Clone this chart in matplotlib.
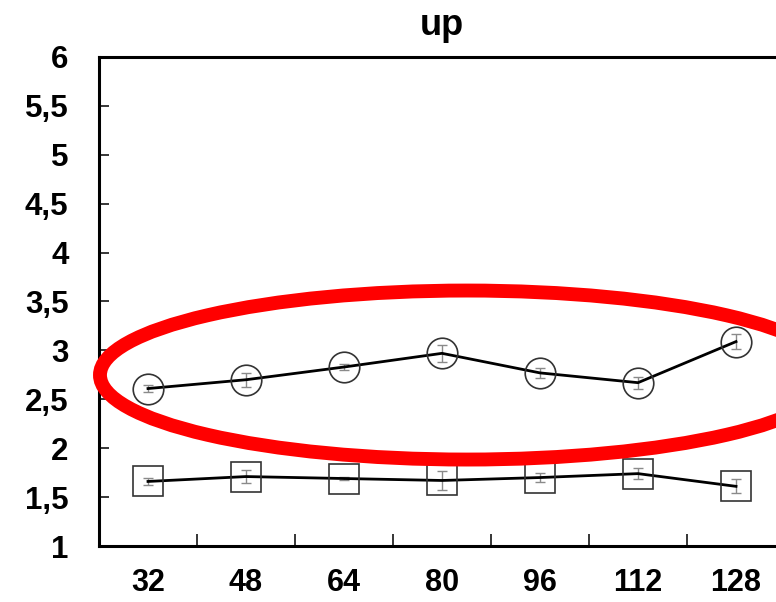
import matplotlib
matplotlib.use("Agg")
import matplotlib.pyplot as plt
from matplotlib.patches import Ellipse
from matplotlib.ticker import FixedLocator, FuncFormatter

# Window sizes on the x axis and mean values per series
categories = ["32", "48", "64", "80", "96", "112", "128"]
circle_vals = [2.61, 2.70, 2.83, 2.97, 2.77, 2.67, 3.09]
circle_err = [0.04, 0.07, 0.03, 0.09, 0.05, 0.06, 0.08]
square_vals = [1.66, 1.71, 1.69, 1.67, 1.70, 1.74, 1.61]
square_err = [0.04, 0.07, 0.02, 0.10, 0.05, 0.06, 0.07]
y_ticks = [1, 1.5, 2, 2.5, 3, 3.5, 4, 4.5, 5, 5.5, 6]
title = "up"

plt.rcParams["font.family"] = ["Liberation Sans", "DejaVu Sans"]
plt.rcParams["font.weight"] = "bold"

fig = plt.figure(figsize=(7.76, 6.02), dpi=100)
ax = fig.add_axes([99 / 776, 56 / 602, 686 / 776, 489 / 602])

x = list(range(len(categories)))

for vals, errs, marker in ((circle_vals, circle_err, "o"), (square_vals, square_err, "s")):
    ax.errorbar(x, vals, yerr=errs, fmt="none", ecolor="#8a8a8a", elinewidth=1.0,
                capsize=3.5, capthick=1.0, zorder=2)
    ax.plot(x, vals, color="black", linewidth=2.0, zorder=3)
    ax.plot(x, vals, linestyle="none", marker=marker, markersize=22,
            markerfacecolor="none", markeredgecolor="#333333", markeredgewidth=1.2,
            zorder=4)

ax.set_xlim(-0.5, len(categories) - 0.5)
ax.set_ylim(1, 6)

# category labels sit between boundary ticks
ax.set_xticks(x)
ax.set_xticklabels(categories)
ax.xaxis.set_minor_locator(FixedLocator([i + 0.5 for i in range(len(categories) - 1)]))
ax.tick_params(axis="x", which="major", length=0, pad=16, labelsize=22)
ax.tick_params(axis="x", which="minor", direction="in", length=8.5, width=1.1)

ax.set_yticks(y_ticks)
ax.yaxis.set_major_formatter(FuncFormatter(lambda v, p: f"{v:g}".replace(".", ",")))
ax.tick_params(axis="y", which="major", direction="in", length=7, width=1.1,
               pad=22, labelsize=22.5)

for side in ("left", "bottom", "top"):
    ax.spines[side].set_linewidth(2.2)
ax.spines["right"].set_visible(False)

ax.set_title(title, fontsize=26, fontweight="bold", pad=16)

ring = Ellipse((3.255, 2.748), width=7.49, height=1.728, fill=False,
               edgecolor="#ff0000", linewidth=10, clip_on=False, zorder=6)
ax.add_patch(ring)

fig.savefig("out.png", dpi=100, facecolor="white")
